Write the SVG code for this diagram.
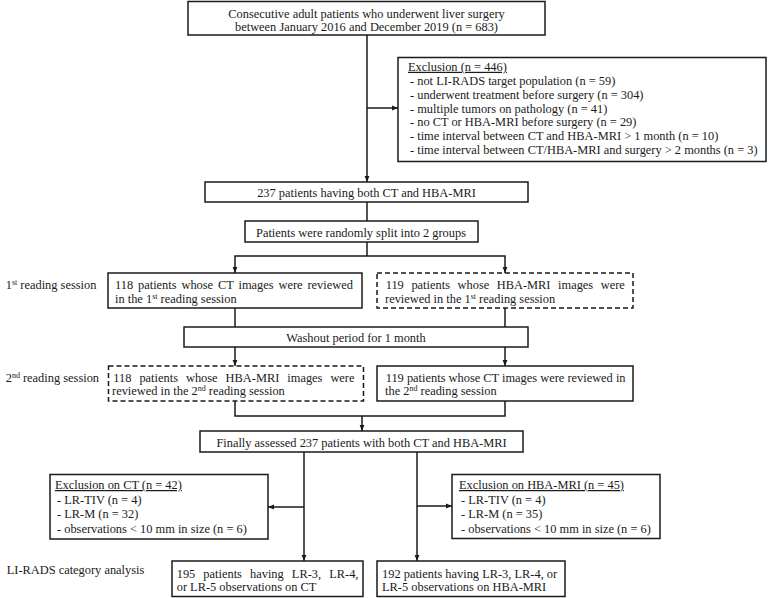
<svg xmlns="http://www.w3.org/2000/svg" width="768" height="598" viewBox="0 0 768 598">
<style>
text{font-family:"Liberation Serif","Times New Roman",serif;font-size:12.4px;fill:#1a1a1a}
.c{text-anchor:middle}
.u{text-decoration:underline}
.sup{font-size:8px;baseline-shift:super}
.box{fill:#fff;stroke:#1a1a1a;stroke-width:1.5}
.dash{fill:#fff;stroke:#1a1a1a;stroke-width:1.5;stroke-dasharray:5,3}
.ln{fill:none;stroke:#1a1a1a;stroke-width:1.5}
.ar{fill:none;stroke:#1a1a1a;stroke-width:1.5;marker-end:url(#ah)}
</style>
<defs>
<marker id="ah" viewBox="0 0 10 10" refX="10" refY="5" markerWidth="6" markerHeight="6" markerUnits="userSpaceOnUse" orient="auto">
<path d="M0,1 L10,5 L0,9 z" fill="#1a1a1a"/>
</marker>
</defs>
<rect width="768" height="598" fill="#fff"/>
<g id="connectors">
<line class="ar" x1="367" y1="35" x2="367" y2="182"/>
<line class="ar" x1="367" y1="108" x2="398" y2="108"/>
<line class="ln" x1="367" y1="202" x2="367" y2="221"/>
<polyline class="ln" points="367,242 367,256"/>
<polyline class="ar" points="367,256 235,256 235,273"/>
<polyline class="ar" points="367,256 505,256 505,273"/>
<line class="ln" x1="235" y1="308" x2="235" y2="327"/>
<line class="ln" x1="505" y1="308" x2="505" y2="327"/>
<line class="ar" x1="235" y1="347" x2="235" y2="366"/>
<line class="ar" x1="505" y1="347" x2="505" y2="366"/>
<polyline class="ln" points="235,401 235,416 505,416 505,401"/>
<line class="ar" x1="362" y1="416" x2="362" y2="431"/>
<line class="ar" x1="304" y1="452" x2="304" y2="561"/>
<line class="ar" x1="304" y1="507" x2="268" y2="507"/>
<line class="ar" x1="417" y1="452" x2="417" y2="561"/>
<line class="ar" x1="417" y1="506" x2="452" y2="506"/>
</g>
<g id="start">
<rect class="box" x="188" y="1.5" width="357" height="33.5"/>
<text class="c" x="366.5" y="17.5">Consecutive adult patients who underwent liver surgery</text>
<text class="c" x="366.5" y="31">between January 2016 and December 2019 (n = 683)</text>
</g>
<g id="exclusion">
<rect class="box" x="398" y="57.5" width="368" height="104"/>
<text class="u" x="408" y="70.8">Exclusion (n = 446)</text>
<text x="410" y="84.7">- not LI-RADS target population (n = 59)</text>
<text x="410" y="98.6">- underwent treatment before surgery (n = 304)</text>
<text x="410" y="112.5">- multiple tumors on pathology (n = 41)</text>
<text x="410" y="126.4">- no CT or HBA-MRI before surgery (n = 29)</text>
<text x="410" y="140.3">- time interval between CT and HBA-MRI &gt; 1 month (n = 10)</text>
<text x="410" y="154.2">- time interval between CT/HBA-MRI and surgery &gt; 2 months (n = 3)</text>
</g>
<g id="both">
<rect class="box" x="205" y="182" width="323" height="20"/>
<text class="c" x="366.5" y="196.5">237 patients having both CT and HBA-MRI</text>
</g>
<g id="split">
<rect class="box" x="245" y="221" width="233" height="21"/>
<text class="c" x="361" y="236.5">Patients were randomly split into 2 groups</text>
</g>
<g id="label1">
<text x="5.7" y="288.5">1<tspan class="sup">st</tspan> reading session</text>
</g>
<g id="ct1">
<rect class="box" x="108" y="273" width="254" height="35"/>
<text x="115" y="288.5" word-spacing="1.8">118 patients whose CT images were reviewed</text>
<text x="115" y="302.5">in the 1<tspan class="sup">st</tspan> reading session</text>
</g>
<g id="mri1">
<rect class="dash" x="377" y="273" width="256" height="35"/>
<text x="385.7" y="288.5" word-spacing="4.5">119 patients whose HBA-MRI images were</text>
<text x="385" y="302.5">reviewed in the 1<tspan class="sup">st</tspan> reading session</text>
</g>
<g id="washout">
<rect class="box" x="184" y="327" width="344" height="20"/>
<text class="c" x="356" y="341.5">Washout period for 1 month</text>
</g>
<g id="label2">
<text x="5.7" y="381.5">2<tspan class="sup">nd</tspan> reading session</text>
</g>
<g id="mri2">
<rect class="dash" x="108.5" y="366" width="255" height="35"/>
<text x="113.3" y="381.5" word-spacing="4.9">118 patients whose HBA-MRI images were</text>
<text x="112" y="395">reviewed in the 2<tspan class="sup">nd</tspan> reading session</text>
</g>
<g id="ct2">
<rect class="box" x="377" y="366" width="256" height="35"/>
<text x="385.7" y="381.5">119 patients whose CT images were reviewed in</text>
<text x="385" y="395">the 2<tspan class="sup">nd</tspan> reading session</text>
</g>
<g id="final">
<rect class="box" x="200" y="431" width="323" height="21"/>
<text class="c" x="361.5" y="446.5">Finally assessed 237 patients with both CT and HBA-MRI</text>
</g>
<g id="exct">
<rect class="box" x="50" y="474.5" width="218" height="64.5"/>
<text class="u" x="55" y="489">Exclusion on CT (n = 42)</text>
<text x="57" y="503.6">- LR-TIV (n = 4)</text>
<text x="57" y="518.2">- LR-M (n = 32)</text>
<text x="57" y="532.8">- observations &lt; 10 mm in size (n = 6)</text>
</g>
<g id="exmri">
<rect class="box" x="452" y="474.5" width="208" height="64"/>
<text class="u" x="459" y="489">Exclusion on HBA-MRI (n = 45)</text>
<text x="461" y="503.6">- LR-TIV (n = 4)</text>
<text x="461" y="518.2">- LR-M (n = 35)</text>
<text x="461" y="532.8">- observations &lt; 10 mm in size (n = 6)</text>
</g>
<g id="label3">
<text x="6.7" y="573.5">LI-RADS category analysis</text>
</g>
<g id="ctfinal">
<rect class="box" x="172" y="561" width="191" height="35.5"/>
<text x="176.7" y="578" word-spacing="5">195 patients having LR-3, LR-4,</text>
<text x="176.7" y="591">or LR-5 observations on CT</text>
</g>
<g id="mrifinal">
<rect class="box" x="377" y="561" width="188" height="35.5"/>
<text x="382" y="578">192 patients having LR-3, LR-4, or</text>
<text x="382" y="591">LR-5 observations on HBA-MRI</text>
</g>
</svg>
